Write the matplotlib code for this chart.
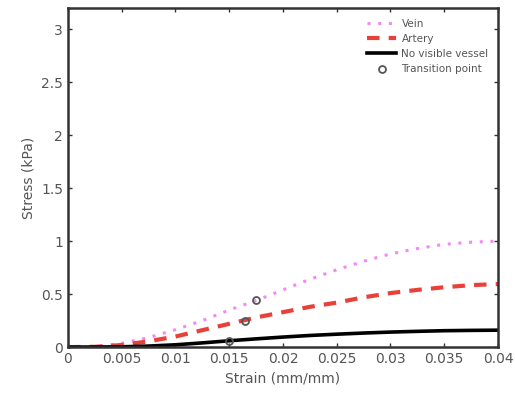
import matplotlib
matplotlib.use('Agg')
import matplotlib.pyplot as plt
import numpy as np

plt.rcParams['font.family'] = 'DejaVu Sans'

# Strain grid (mm/mm) and stress curves (kPa)
strain = [0, 0.0025, 0.005, 0.0075, 0.01, 0.0125, 0.015, 0.0175, 0.02,
          0.0225, 0.025, 0.0275, 0.03, 0.0325, 0.035, 0.0375, 0.04]
vein = [0, 0.004, 0.035, 0.09, 0.165, 0.25, 0.35, 0.44, 0.54,
        0.64, 0.73, 0.81, 0.88, 0.93, 0.97, 0.99, 1.0]
artery = [0, 0.003, 0.02, 0.055, 0.10, 0.16, 0.22, 0.28, 0.33,
          0.38, 0.42, 0.47, 0.51, 0.54, 0.565, 0.585, 0.595]
no_vessel = [0, 0.001, 0.003, 0.01, 0.022, 0.04, 0.06, 0.078, 0.095,
             0.11, 0.122, 0.133, 0.142, 0.149, 0.155, 0.158, 0.16]

# Transition points
trans_x = [0.0175, 0.0165, 0.015]
trans_y = [0.44, 0.245, 0.06]

xticks = [0, 0.005, 0.01, 0.015, 0.02, 0.025, 0.03, 0.035, 0.04]
yticks = [0, 0.5, 1, 1.5, 2, 2.5, 3]

fig = plt.figure(figsize=(5.15, 3.99), dpi=100)
ax = fig.add_axes([0.132, 0.130, 0.835, 0.85])

grey = '#555555'
ax.plot(strain, vein, linestyle=(0, (1, 2.5)), color='#f08cf0', linewidth=2.2, label='Vein')
ax.plot(strain, artery, linestyle=(0, (3, 2.2)), color='#e8413a', linewidth=3, label='Artery')
ax.plot(strain, no_vessel, linestyle='-', color='black', linewidth=2.6, label='No visible vessel')
ax.plot(trans_x, trans_y, linestyle='none', marker='o', markersize=5,
        markerfacecolor='none', markeredgecolor='#555555', markeredgewidth=1.3,
        label='Transition point')

ax.set_xlim(0, 0.04)
ax.set_ylim(0, 3.2)
ax.set_xticks(xticks)
ax.set_xticklabels(['%g' % t for t in xticks])
ax.set_yticks(yticks)
ax.set_yticklabels(['%g' % t for t in yticks])
ax.tick_params(direction='in', top=True, right=True, length=3, width=1,
               colors='#333333', labelcolor=grey, labelsize=10)
for s in ax.spines.values():
    s.set_linewidth(1.8)
    s.set_color('#333333')

ax.set_xlabel('Strain (mm/mm)', color=grey, fontsize=10)
ax.set_ylabel('Stress (kPa)', color=grey, fontsize=10)

leg = ax.legend(loc='upper right', frameon=False, fontsize=7.5,
                handlelength=2.8, handletextpad=0.5, labelspacing=0.5,
                borderaxespad=0.3, bbox_to_anchor=(0.995, 0.99))
for t in leg.get_texts():
    t.set_color(grey)

fig.savefig('out.png', dpi=100)
plt.close(fig)
